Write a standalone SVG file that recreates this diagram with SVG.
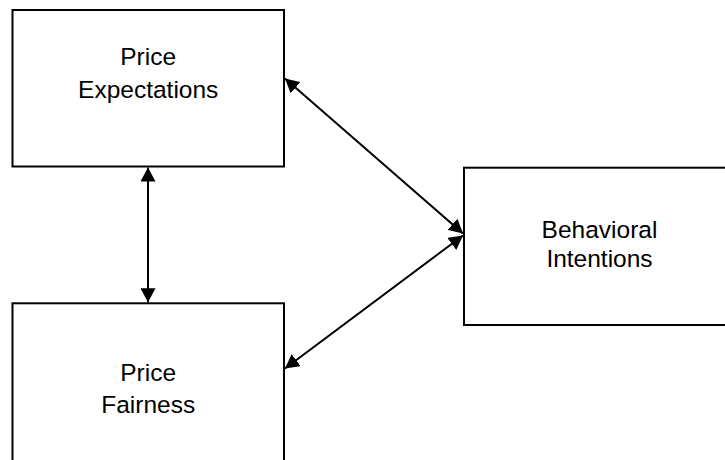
<svg xmlns="http://www.w3.org/2000/svg" width="725" height="460" viewBox="0 0 725 460">
<style>
.box{fill:#fff;stroke:#000;stroke-width:2}
.lbl{font-family:"Liberation Sans",Arial,sans-serif;font-size:24.5px;fill:#000;text-anchor:middle}
.conn{stroke:#000;stroke-width:2;fill:none;marker-start:url(#ah);marker-end:url(#ah)}
</style>
<defs>
<marker id="ah" markerUnits="userSpaceOnUse" viewBox="0 0 14 15" refX="14" refY="7.5" markerWidth="14" markerHeight="15" orient="auto-start-reverse">
<path d="M0,0 L14,7.5 L0,15 Z" fill="#000"/>
</marker>
</defs>
<rect width="725" height="460" fill="#fff"/>
<g id="price-expectations">
<rect class="box" x="12.5" y="10" width="271.5" height="156.5"/>
<text class="lbl" x="148.2" y="65">Price</text>
<text class="lbl" x="148.2" y="98">Expectations</text>
</g>
<g id="price-fairness">
<rect class="box" x="12.5" y="303.3" width="271.5" height="170"/>
<text class="lbl" x="148.2" y="381">Price</text>
<text class="lbl" x="148.2" y="413">Fairness</text>
</g>
<g id="behavioral-intentions">
<rect class="box" x="464" y="167.7" width="280" height="157.3"/>
<text class="lbl" x="599.5" y="237.5">Behavioral</text>
<text class="lbl" x="599.5" y="266.5">Intentions</text>
</g>
<g id="connectors">
<line class="conn" x1="148" y1="167.5" x2="148" y2="302.3"/>
<line class="conn" x1="285" y1="78.5" x2="463" y2="233.5"/>
<line class="conn" x1="463" y1="235.5" x2="285" y2="368.5"/>
</g>
</svg>
